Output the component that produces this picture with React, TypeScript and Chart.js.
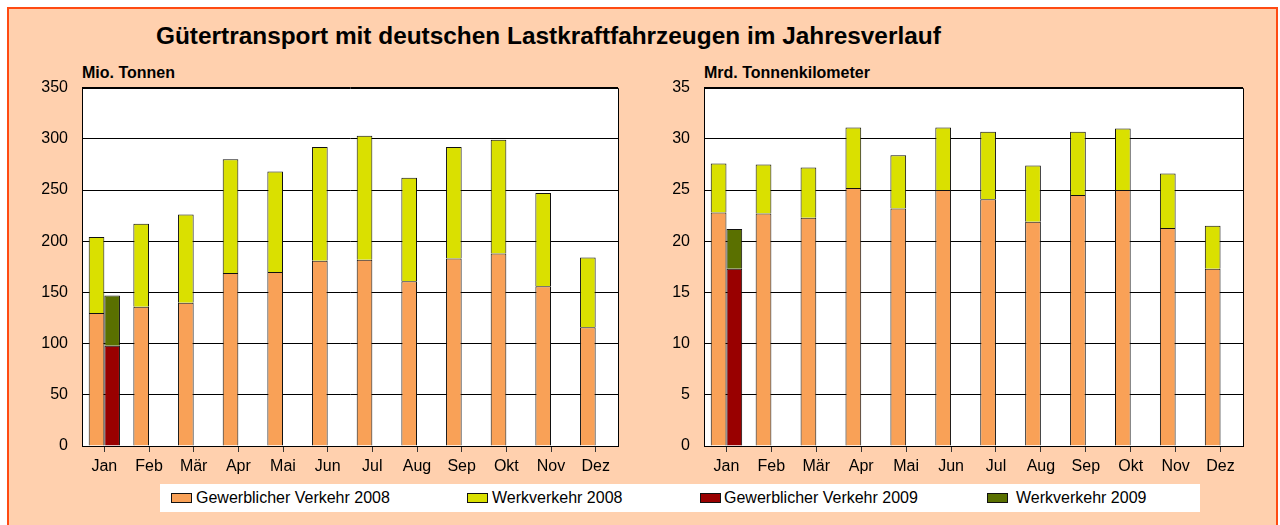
import React, { useEffect, useRef } from 'react';
import { Chart, registerables } from 'chart.js';

Chart.register(...registerables);

const months = ['Jan', 'Feb', 'Mär', 'Apr', 'Mai', 'Jun', 'Jul', 'Aug', 'Sep', 'Okt', 'Nov', 'Dez'];

// Mio. Tonnen
const tonnenGew2008 = [130, 136, 140, 169, 170, 181, 182, 161, 183, 188, 156, 116];
const tonnenWerk2008 = [74, 81, 86, 111, 98, 111, 121, 101, 109, 111, 91, 68];
const tonnenGew2009 = [98, null, null, null, null, null, null, null, null, null, null, null];
const tonnenWerk2009 = [49, null, null, null, null, null, null, null, null, null, null, null];
const tonnenMax = 350;
const tonnenStep = 50;

// Mrd. Tonnenkilometer
const tkmGew2008 = [22.8, 22.7, 22.3, 25.2, 23.2, 25.0, 24.1, 21.9, 24.5, 25.0, 21.3, 17.3];
const tkmWerk2008 = [4.8, 4.8, 4.9, 5.9, 5.2, 6.1, 6.6, 5.5, 6.2, 6.0, 5.3, 4.2];
const tkmGew2009 = [17.3, null, null, null, null, null, null, null, null, null, null, null];
const tkmWerk2009 = [3.9, null, null, null, null, null, null, null, null, null, null, null];
const tkmMax = 35;
const tkmStep = 5;

const seriesNames = ['Gewerblicher Verkehr 2008', 'Werkverkehr 2008', 'Gewerblicher Verkehr 2009', 'Werkverkehr 2009'];
const seriesColors = ['#F9A157', '#DAE000', '#990000', '#5A7000'];

const FONT = "'Liberation Sans', Arial, sans-serif";

const plotFrame = {
  id: 'plotFrame',
  beforeDraw(chart: any) {
    const { ctx, chartArea: a } = chart;
    ctx.save();
    ctx.fillStyle = '#ffffff';
    ctx.fillRect(a.left, a.top, a.right - a.left, a.bottom - a.top);
    ctx.restore();
  },
  afterDraw(chart: any) {
    const { ctx, chartArea: a } = chart;
    ctx.save();
    ctx.strokeStyle = '#000000';
    ctx.lineWidth = 1;
    const l = Math.round(a.left) + 0.5;
    const t = Math.round(a.top) + 0.5;
    const r = Math.round(a.right) + 0.5;
    const b = Math.round(a.bottom) + 0.5;
    ctx.beginPath();
    ctx.moveTo(l, t);
    ctx.lineTo(r, t);
    ctx.lineTo(r, b);
    ctx.stroke();
    ctx.restore();
  },
};

type BarProps = {
  left: number;
  top: number;
  width: number;
  height: number;
  gew08: (number | null)[];
  werk08: (number | null)[];
  gew09: (number | null)[];
  werk09: (number | null)[];
  max: number;
  step: number;
};

function BarPanel(p: BarProps) {
  const ref = useRef<HTMLCanvasElement | null>(null);
  useEffect(() => {
    if (!ref.current) return;
    const mk = (label: string, data: (number | null)[], color: string, stack: string) => ({
      label,
      data,
      backgroundColor: color,
      borderColor: '#111111',
      borderWidth: 1,
      stack,
      categoryPercentage: 0.7,
      barPercentage: 1.0,
    });
    const chart = new Chart(ref.current, {
      type: 'bar',
      data: {
        labels: months,
        datasets: [
          mk(seriesNames[0], p.gew08, seriesColors[0], 's2008'),
          mk(seriesNames[1], p.werk08, seriesColors[1], 's2008'),
          mk(seriesNames[2], p.gew09, seriesColors[2], 's2009'),
          mk(seriesNames[3], p.werk09, seriesColors[3], 's2009'),
        ],
      },
      options: {
        animation: false,
        responsive: false,
        devicePixelRatio: 1,
        layout: { padding: { top: 10, right: 2, bottom: 2, left: 0 } },
        plugins: {
          legend: { display: false },
          tooltip: { enabled: false },
          title: { display: false },
        },
        scales: {
          x: {
            stacked: true,
            offset: true,
            grid: {
              display: true,
              drawOnChartArea: false,
              drawTicks: true,
              tickLength: 6,
              offset: false,
              color: '#333333',
            },
            border: { display: true, color: '#000000', width: 1 },
            ticks: {
              color: '#000000',
              font: { family: FONT, size: 16 },
              padding: 5,
              maxRotation: 0,
              autoSkip: false,
            },
            afterFit: (s: any) => {
              s.height = 32;
            },
          },
          y: {
            stacked: true,
            min: 0,
            max: p.max,
            grid: { color: '#000000', drawTicks: false, lineWidth: 1 },
            border: { display: true, color: '#000000', width: 1 },
            ticks: {
              stepSize: p.step,
              color: '#000000',
              font: { family: FONT, size: 16 },
              padding: 14,
            },
            afterFit: (s: any) => {
              s.width = 52;
            },
          },
        },
      },
      plugins: [plotFrame],
    } as any);
    return () => chart.destroy();
  }, []);
  return (
    <canvas
      ref={ref}
      width={p.width}
      height={p.height}
      style={{ position: 'absolute', left: p.left, top: p.top, width: p.width, height: p.height }}
    />
  );
}

export default function App() {
  const legendItems = [
    { sw: 171, tx: 196 },
    { sw: 467, tx: 492 },
    { sw: 700, tx: 724 },
    { sw: 987, tx: 1016 },
  ];
  return (
    <div style={{ position: 'fixed', left: 0, top: 0, width: 1280, height: 525, background: '#ffffff', overflow: 'hidden' }}>
      <div
        style={{
          position: 'absolute',
          left: 7,
          top: 7,
          width: 1267,
          height: 540,
          border: '2px solid #FF4A12',
          background: '#FFD0AE',
        }}
      />
      <div
        style={{
          position: 'absolute',
          left: 156,
          top: 24,
          fontFamily: FONT,
          fontWeight: 'bold',
          fontSize: 24.4,
          lineHeight: '24px',
          color: '#000',
          whiteSpace: 'nowrap',
        }}
      >
        Gütertransport mit deutschen Lastkraftfahrzeugen im Jahresverlauf
      </div>
      <div
        style={{
          position: 'absolute',
          left: 82,
          top: 65,
          fontFamily: FONT,
          fontWeight: 'bold',
          fontSize: 16,
          lineHeight: '16px',
          color: '#000',
          whiteSpace: 'nowrap',
        }}
      >
        Mio. Tonnen
      </div>
      <div
        style={{
          position: 'absolute',
          left: 704,
          top: 65,
          fontFamily: FONT,
          fontWeight: 'bold',
          fontSize: 16,
          lineHeight: '16px',
          color: '#000',
          whiteSpace: 'nowrap',
        }}
      >
        Mrd. Tonnenkilometer
      </div>
      <BarPanel
        left={30}
        top={64}
        width={590}
        height={416}
        gew08={tonnenGew2008}
        werk08={tonnenWerk2008}
        gew09={tonnenGew2009}
        werk09={tonnenWerk2009}
        max={tonnenMax}
        step={tonnenStep}
      />
      <BarPanel
        left={652}
        top={64}
        width={593}
        height={416}
        gew08={tkmGew2008}
        werk08={tkmWerk2008}
        gew09={tkmGew2009}
        werk09={tkmWerk2009}
        max={tkmMax}
        step={tkmStep}
      />
      <div style={{ position: 'absolute', left: 160, top: 484, width: 1040, height: 28, background: '#ffffff' }} />
      {legendItems.map((it, i) => (
        <React.Fragment key={i}>
          <div
            style={{
              position: 'absolute',
              left: it.sw,
              top: 493,
              width: 19,
              height: 8,
              background: seriesColors[i],
              border: '1px solid #111',
            }}
          />
          <div
            style={{
              position: 'absolute',
              left: it.tx,
              top: 489,
              fontFamily: FONT,
              fontSize: 16,
              lineHeight: '18px',
              color: '#000',
              whiteSpace: 'nowrap',
            }}
          >
            {seriesNames[i]}
          </div>
        </React.Fragment>
      ))}
    </div>
  );
}
